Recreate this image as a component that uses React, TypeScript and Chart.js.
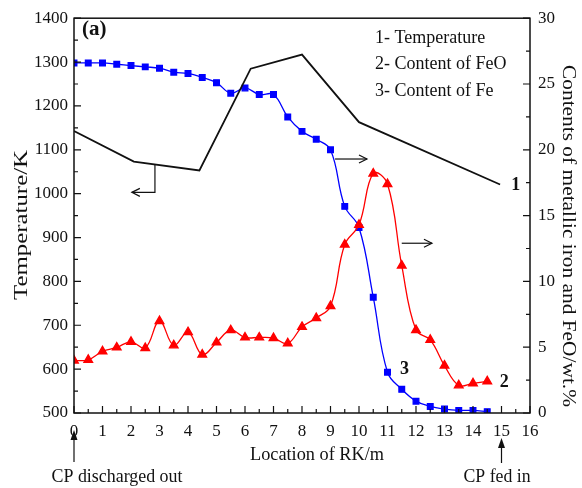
import React, { useEffect, useRef } from "react";
import { Chart, registerables } from "chart.js";

Chart.register(...registerables);

// Temperature (curve 1, left axis)
const tempX = [0, 2.1, 4.4, 6.2, 8.0, 10.0, 14.95];
const tempY = [1143, 1073, 1053, 1285, 1317, 1163, 1021];

// Positions for curves 2 and 3
const locX = [0, 0.5, 1, 1.5, 2, 2.5, 3, 3.5, 4, 4.5, 5, 5.5, 6, 6.5, 7, 7.5, 8, 8.5, 9, 9.5, 10, 10.5, 11, 11.5, 12, 12.5, 13, 13.5, 14, 14.5];
// FeO content (curve 2, right axis)
const feoY = [3.98, 4.04, 4.68, 4.98, 5.41, 4.94, 6.99, 5.14, 6.14, 4.44, 5.36, 6.29, 5.74, 5.74, 5.69, 5.29, 6.54, 7.22, 8.12, 12.8, 14.3, 18.2, 17.4, 11.2, 6.3, 5.56, 3.6, 2.1, 2.25, 2.4];
// Metallic Fe content (curve 3, right axis)
const feY = [26.6, 26.6, 26.6, 26.5, 26.4, 26.3, 26.2, 25.9, 25.8, 25.5, 25.1, 24.3, 24.7, 24.2, 24.2, 22.5, 21.4, 20.8, 20.0, 15.7, 14.1, 8.8, 3.1, 1.8, 0.9, 0.5, 0.3, 0.2, 0.2, 0.1];

const legendLines = ["1- Temperature", "2- Content of FeO", "3- Content of Fe"];

const FONT = "'Liberation Serif', 'Times New Roman', serif";

function arrowHeadOpen(ctx: CanvasRenderingContext2D, x: number, y: number, dir: number) {
  ctx.beginPath();
  ctx.moveTo(x - dir * 8, y - 4);
  ctx.lineTo(x, y);
  ctx.lineTo(x - dir * 8, y + 4);
  ctx.stroke();
}

function fitText(ctx: CanvasRenderingContext2D, text: string, cx: number, cy: number, rot: number, target: number) {
  const w = ctx.measureText(text).width;
  ctx.save();
  ctx.translate(cx, cy);
  ctx.rotate(rot);
  ctx.scale(target / w, 1);
  ctx.textAlign = "center";
  ctx.textBaseline = "middle";
  ctx.fillText(text, 0, 0);
  ctx.restore();
}

const overlay = {
  id: "overlay",
  afterDraw(chart: any) {
    const ctx: CanvasRenderingContext2D = chart.ctx;
    const a = chart.chartArea;
    const xs = chart.scales.x;
    const ys = chart.scales.y;
    const y1 = chart.scales.y1;
    ctx.save();
    ctx.strokeStyle = "#111";
    ctx.fillStyle = "#111";
    ctx.lineWidth = 1.5;
    ctx.strokeRect(a.left, a.top, a.right - a.left, a.bottom - a.top);
    ctx.lineWidth = 1.2;
    ctx.beginPath();
    for (let v = 0; v <= 16; v += 0.5) {
      const px = xs.getPixelForValue(v);
      const len = Number.isInteger(v) ? 7 : 4;
      ctx.moveTo(px, a.bottom);
      ctx.lineTo(px, a.bottom - len);
    }
    for (let v = 500; v <= 1400; v += 50) {
      const py = ys.getPixelForValue(v);
      const len = v % 100 === 0 ? 7 : 4;
      ctx.moveTo(a.left, py);
      ctx.lineTo(a.left + len, py);
    }
    for (let v = 0; v <= 30; v += 2.5) {
      const py = y1.getPixelForValue(v);
      const len = v % 5 === 0 ? 7 : 4;
      ctx.moveTo(a.right, py);
      ctx.lineTo(a.right - len, py);
    }
    ctx.stroke();

    // annotation arrows
    const ax1 = xs.getPixelForValue(2.84);
    const ayTop = ys.getPixelForValue(1066);
    const ayBot = ys.getPixelForValue(1003);
    const ax1End = xs.getPixelForValue(2.03);
    ctx.beginPath();
    ctx.moveTo(ax1, ayTop);
    ctx.lineTo(ax1, ayBot);
    ctx.lineTo(ax1End, ayBot);
    ctx.stroke();
    arrowHeadOpen(ctx, ax1End, ayBot, -1);
    const rArrows = [
      [9.16, 10.28, 19.3],
      [11.5, 12.56, 12.9],
    ];
    for (const [x0, x1, yv] of rArrows) {
      const py = y1.getPixelForValue(yv);
      const p0 = xs.getPixelForValue(x0);
      const p1 = xs.getPixelForValue(x1);
      ctx.beginPath();
      ctx.moveTo(p0, py);
      ctx.lineTo(p1, py);
      ctx.stroke();
      arrowHeadOpen(ctx, p1, py, 1);
    }

    const upArrow = (xv: number, top: number, bot: number) => {
      const px = xs.getPixelForValue(xv);
      ctx.beginPath();
      ctx.moveTo(px, bot);
      ctx.lineTo(px, top + 8);
      ctx.stroke();
      ctx.beginPath();
      ctx.moveTo(px, top);
      ctx.lineTo(px - 3.5, top + 10);
      ctx.lineTo(px + 3.5, top + 10);
      ctx.closePath();
      ctx.fill();
    };
    upArrow(0, 430, 462);
    upArrow(15, 438, 463);

    ctx.fillStyle = "#111";
    ctx.textBaseline = "middle";
    ctx.textAlign = "center";
    ctx.font = `18px ${FONT}`;
    fitText(ctx, "CP discharged out", 117, 477, 0, 131);
    fitText(ctx, "CP fed in", 497, 477, 0, 67);
    fitText(ctx, "Location of RK/m", 317, 455, 0, 134);

    ctx.textAlign = "left";
    ctx.font = `18px ${FONT}`;
    legendLines.forEach((t, i) => ctx.fillText(t, 375, 38 + i * 26.5));

    ctx.font = `bold 21px ${FONT}`;
    ctx.fillText("(a)", 82, 30);

    ctx.font = `bold 18px ${FONT}`;
    ctx.textAlign = "center";
    ctx.fillText("1", xs.getPixelForValue(15.5), ys.getPixelForValue(1019));
    ctx.fillText("2", xs.getPixelForValue(15.1), y1.getPixelForValue(2.35));
    ctx.fillText("3", xs.getPixelForValue(11.6), y1.getPixelForValue(3.3));

    ctx.font = `18px ${FONT}`;
    fitText(ctx, "Temperature/K", 22, 225, -Math.PI / 2, 150);
    fitText(ctx, "Contents of metallic iron and FeO/wt.%", 568, 236, Math.PI / 2, 342);

    ctx.restore();
  },
};

export default function App() {
  const ref = useRef<HTMLCanvasElement>(null);
  useEffect(() => {
    if (!ref.current) return;
    const tickFont = { family: FONT, size: 17 };
    const plain = (v: any) => String(v);
    const chart = new Chart(ref.current, {
      type: "line",
      data: {
        datasets: [
          {
            label: "Temperature",
            data: tempX.map((x, i) => ({ x, y: tempY[i] })),
            yAxisID: "y",
            borderColor: "#111",
            borderWidth: 1.8,
            pointRadius: 0,
            tension: 0,
          },
          {
            label: "Content of FeO",
            data: locX.map((x, i) => ({ x, y: feoY[i] })),
            yAxisID: "y1",
            borderColor: "#ff0000",
            backgroundColor: "#ff0000",
            borderWidth: 1.3,
            pointStyle: "triangle",
            pointRadius: 5,
            tension: 0.4,
          },
          {
            label: "Content of Fe",
            data: locX.map((x, i) => ({ x, y: feY[i] })),
            yAxisID: "y1",
            borderColor: "#0000ff",
            backgroundColor: "#0000ff",
            borderWidth: 1.3,
            pointStyle: "rect",
            pointRadius: 4,
            tension: 0.4,
          },
        ],
      },
      options: {
        responsive: false,
        animation: false,
        layout: { padding: { top: 14, left: 0, right: 0, bottom: 0 } },
        plugins: { legend: { display: false }, tooltip: { enabled: false } },
        scales: {
          x: {
            type: "linear",
            min: 0,
            max: 16,
            grid: { display: false, drawTicks: false },
            border: { display: false },
            ticks: { stepSize: 1, font: tickFont, color: "#111", padding: 8, maxRotation: 0, callback: plain },
            afterFit: (s: any) => {
              s.height = 75;
            },
          },
          y: {
            type: "linear",
            position: "left",
            min: 500,
            max: 1400,
            grid: { display: false, drawTicks: false },
            border: { display: false },
            ticks: { stepSize: 100, font: tickFont, color: "#111", padding: 6, callback: plain },
            afterFit: (s: any) => {
              s.width = 74;
            },
          },
          y1: {
            type: "linear",
            position: "right",
            min: 0,
            max: 30,
            grid: { display: false, drawTicks: false },
            border: { display: false },
            ticks: { stepSize: 5, font: tickFont, color: "#111", padding: 8, callback: plain },
            afterFit: (s: any) => {
              s.width = 52;
            },
          },
        },
      } as any,
      plugins: [overlay],
    });
    return () => chart.destroy();
  }, []);
  return (
    <div style={{ position: "absolute", left: 0, top: 0, width: 582, height: 488, background: "#fff" }}>
      <canvas ref={ref} width={582} height={488} />
    </div>
  );
}
